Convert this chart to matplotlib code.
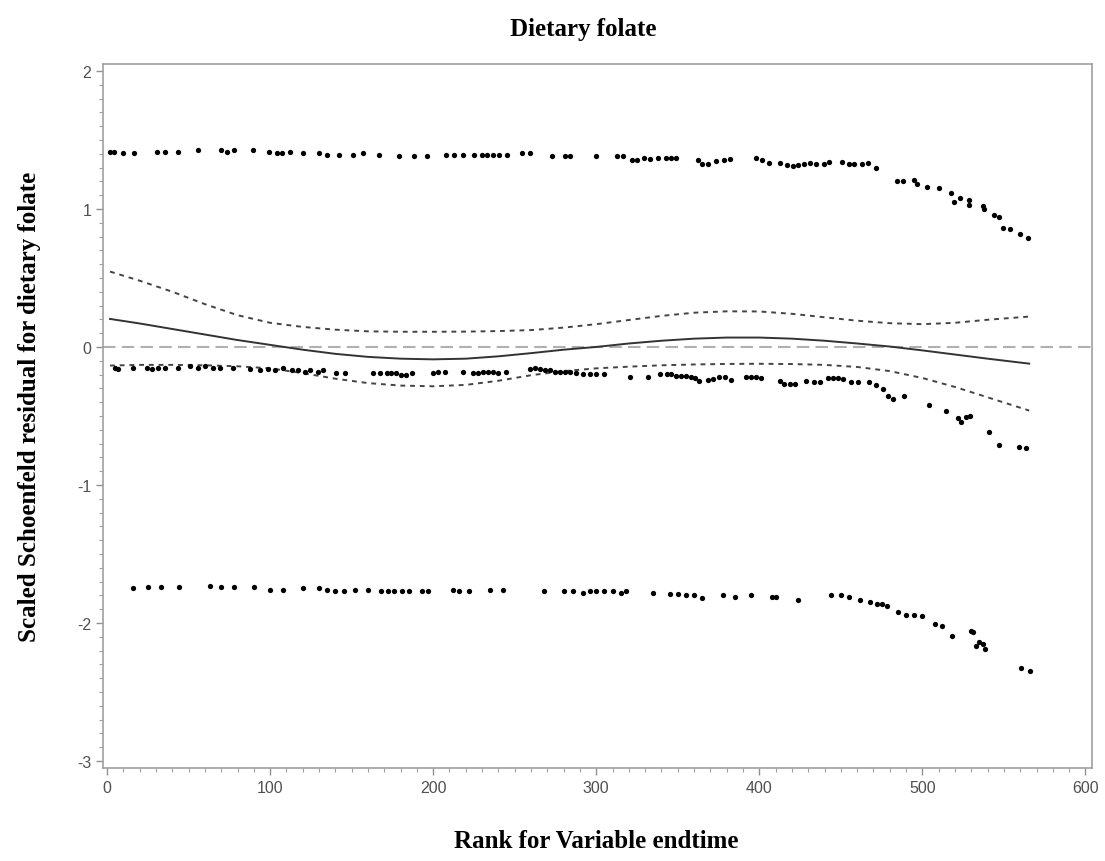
import matplotlib
matplotlib.use('Agg')
import matplotlib.pyplot as plt
from matplotlib.ticker import MultipleLocator

plt.rcParams['axes.unicode_minus'] = False

# residuals, upper band
top_x = [2, 4, 10, 16.7, 30.4, 35.5, 43.7, 55.9, 69.7, 73.3, 77.8, 89.6, 99.3, 104, 107, 112,
         120, 130, 135, 142, 151, 157, 167, 179, 188, 196, 208, 213, 218, 225,
         229.7, 233.3, 236.9, 240.4, 245.1, 254.2, 259.4, 272.9, 281.1, 284.2, 300.1, 312.7,
         316.7, 321.7, 325.2, 329.2, 332.8, 338, 343, 345.8, 348.9, 362.4, 364.8, 368.4,
         373.6, 378.3, 382.1, 398, 401.5, 405.8, 412.9, 416.9, 420.5, 424, 427.6, 431.1,
         434.7, 439.5, 443, 450.6, 454.8, 457.9, 462.7, 466.7, 471.4, 484.4, 488, 494.6,
         497, 502.9, 510.5, 517.7, 519.3, 523.1, 528.3, 528.8, 537.3, 537.8, 543.7, 547.2,
         549.6, 553.7, 559.6, 565]
top_y = [1.415, 1.415, 1.403, 1.403, 1.415, 1.415, 1.415, 1.428, 1.428, 1.415, 1.428, 1.428,
         1.415, 1.403, 1.403, 1.415, 1.403, 1.403, 1.394, 1.394, 1.394, 1.403, 1.394, 1.382,
         1.382, 1.382, 1.394, 1.394, 1.394, 1.394,
         1.39, 1.39, 1.39, 1.39, 1.39, 1.404, 1.404, 1.38, 1.38, 1.38, 1.38, 1.38,
         1.38, 1.354, 1.354, 1.366, 1.361, 1.371, 1.371, 1.371, 1.371, 1.354, 1.325, 1.325,
         1.347, 1.354, 1.361, 1.366, 1.354, 1.332, 1.332, 1.318, 1.313, 1.318, 1.328, 1.332,
         1.323, 1.323, 1.342, 1.342, 1.328, 1.323, 1.323, 1.332, 1.299, 1.203, 1.203, 1.21,
         1.181, 1.16, 1.15, 1.114, 1.049, 1.078, 1.066, 1.03, 1.02, 1.001, 0.953, 0.941,
         0.864, 0.852, 0.821, 0.79]

# residuals, middle band
mid_x = [4.9, 6.9, 16.1, 24.3, 27.4, 31.5, 35.5, 43.7, 50.7, 56, 60, 65.1, 69.2, 77.4, 87.6,
         93.8, 98.8, 103, 108, 113.2, 117.2, 121.3, 124.4, 129.5, 132.6, 140.7, 145.8, 163.2,
         167.3, 171.4, 174.4, 177.5, 180.5, 183.6, 186.7, 200, 203, 207.1, 218.3, 224.5,
         227.5, 230.6, 233.6, 236.7, 239.8, 244.9, 259.2, 262.3, 265.3, 268.4, 271.5, 274.5,
         277.6, 280.6, 283.7, 287.8,
         291.9, 296, 300, 304.5, 320.9, 331.7, 338.9, 343.3, 346, 349.1, 352.1, 355.2, 358.2,
         360.3, 363.3, 368.5, 371.5, 375.2, 379, 382.9, 391.9, 395, 398, 401.1, 412.4, 415.4,
         418.9, 421.6, 428.7, 433.8, 437.3, 442, 445.1, 448.1, 451.2, 456.3, 460.4, 467.1,
         471.6, 475.7, 478.8, 481.8, 489, 504.3, 514.5, 521.7, 523.7, 526.8, 529.2, 541.1,
         547.2, 559.1, 563.6]
mid_y = [-0.15, -0.16, -0.15, -0.15, -0.16, -0.15, -0.15, -0.15, -0.14, -0.15, -0.14, -0.15,
         -0.15, -0.15, -0.16, -0.17, -0.16, -0.17, -0.15, -0.17, -0.17, -0.18, -0.17, -0.18,
         -0.17, -0.19, -0.19, -0.19, -0.19, -0.19, -0.19, -0.19, -0.2, -0.2, -0.19, -0.19,
         -0.18, -0.18, -0.18, -0.19, -0.19, -0.18, -0.18, -0.18, -0.19, -0.18, -0.16, -0.15,
         -0.16, -0.17, -0.17, -0.18, -0.18, -0.18, -0.18, -0.19,
         -0.196, -0.196, -0.196, -0.196, -0.215, -0.215, -0.196, -0.196, -0.196, -0.208, -0.213,
         -0.213, -0.22, -0.227, -0.249, -0.239, -0.232, -0.22, -0.215, -0.239, -0.22, -0.215,
         -0.215, -0.227, -0.249, -0.268, -0.268, -0.268, -0.249, -0.256, -0.256, -0.225,
         -0.225, -0.225, -0.232, -0.256, -0.256, -0.256, -0.275, -0.304, -0.353, -0.377,
         -0.357, -0.418, -0.466, -0.517, -0.546, -0.51, -0.498, -0.618, -0.71, -0.727, -0.734]

# residuals, lower band
low_x = [16, 25, 33, 44, 63, 70, 78, 90, 100, 108, 120, 130, 135, 140, 145, 152, 160, 168,
         172, 176, 181, 185, 193, 197, 212, 216, 222, 235, 243, 268, 280, 286, 292, 296, 300,
         305, 310, 315, 318, 335, 345, 350, 355, 360, 365, 378, 385, 395, 408, 410, 424, 444,
         450, 455, 462, 468, 472, 475, 478, 485, 490, 495, 500,
         508, 512.1, 518.2, 529.9, 530.9, 532.6, 535, 537.1, 538.7, 560.5, 565.7]
low_y = [-1.75, -1.74, -1.74, -1.74, -1.73, -1.74, -1.74, -1.74, -1.76, -1.76, -1.75, -1.75,
         -1.76, -1.77, -1.77, -1.76, -1.76, -1.77, -1.77, -1.77, -1.77, -1.77, -1.77, -1.77,
         -1.76, -1.77, -1.77, -1.76, -1.76, -1.77, -1.77, -1.77, -1.78, -1.77, -1.77, -1.77,
         -1.77, -1.78, -1.77, -1.78, -1.79, -1.79, -1.8, -1.8, -1.82, -1.8, -1.81, -1.8,
         -1.81, -1.81, -1.83, -1.8, -1.8, -1.81, -1.83, -1.85, -1.86, -1.86, -1.88, -1.92,
         -1.94, -1.94, -1.95,
         -2.007, -2.019, -2.097, -2.06, -2.068, -2.169, -2.14, -2.152, -2.188, -2.328, -2.35]

# smooth fit and its confidence limits
curve_x = [1.8, 20, 40, 60, 80, 100, 120, 140, 160, 180, 200, 220, 240, 260, 280, 300, 320,
           340, 360, 380, 400, 420, 440, 460, 480, 500, 520, 540, 565.5]
fit_y = [0.203, 0.17, 0.13, 0.09, 0.05, 0.015, -0.02, -0.05, -0.072, -0.085, -0.09, -0.085,
         -0.068, -0.045, -0.02, 0.0, 0.025, 0.045, 0.06, 0.068, 0.068, 0.06, 0.045, 0.025,
         0.003, -0.025, -0.055, -0.085, -0.121]
up_y = [0.546, 0.48, 0.40, 0.31, 0.23, 0.175, 0.145, 0.125, 0.113, 0.11, 0.11, 0.111, 0.115,
        0.122, 0.14, 0.165, 0.195, 0.225, 0.248, 0.258, 0.257, 0.24, 0.215, 0.19, 0.172,
        0.165, 0.175, 0.197, 0.22]
lo_y = [-0.135, -0.13, -0.13, -0.133, -0.14, -0.155, -0.19, -0.23, -0.262, -0.28, -0.285,
        -0.275, -0.245, -0.205, -0.175, -0.155, -0.143, -0.133, -0.127, -0.123, -0.122,
        -0.124, -0.13, -0.145, -0.175, -0.225, -0.29, -0.365, -0.461]

fig = plt.figure(figsize=(11.05, 8.62), dpi=100)
ax = fig.add_axes([0.0932, 0.108, 0.895, 0.8166])

ax.axhline(0, color='#b0b0b0', lw=1.5, dashes=(6, 3), zorder=1)
for xs, ys in [(top_x, top_y), (mid_x, mid_y), (low_x, low_y)]:
    ax.plot(xs, ys, 'o', color='black', markersize=3.8, markeredgewidth=0, zorder=3)
ax.plot(curve_x, fit_y, color='#333333', lw=1.4, zorder=2)
ax.plot(curve_x, up_y, color='#444444', lw=1.4, dashes=(2.5, 2.5), zorder=2)
ax.plot(curve_x, lo_y, color='#444444', lw=1.4, dashes=(2.5, 2.5), zorder=2)

ax.set_xlim(-2.5, 604)
ax.set_ylim(-3.05, 2.05)
ax.xaxis.set_major_locator(MultipleLocator(100))
ax.xaxis.set_minor_locator(MultipleLocator(10))
ax.yaxis.set_major_locator(MultipleLocator(1))
ax.yaxis.set_minor_locator(MultipleLocator(0.1))
for s in ax.spines.values():
    s.set_color('#a0a0a0')
    s.set_linewidth(1.2)
ax.tick_params(which='major', length=5, width=1, color='#909090', labelcolor='#505050',
               labelsize=11.5)
ax.tick_params(which='minor', length=3, width=0.8, color='#a0a0a0')
for lab in ax.get_xticklabels() + ax.get_yticklabels():
    lab.set_family('Liberation Sans')

fig.text(0.528, 0.966, 'Dietary folate', ha='center', va='center',
         family='Liberation Serif', weight='bold', fontsize=18)
fig.text(0.54, 0.024, 'Rank for Variable endtime', ha='center', va='center',
         family='Liberation Serif', weight='bold', fontsize=18)
fig.text(0.027, 0.528, 'Scaled Schoenfeld residual for dietary folate', ha='center',
         va='center', rotation=90, family='Liberation Serif', weight='bold', fontsize=18)

fig.savefig('out.png', dpi=100)
